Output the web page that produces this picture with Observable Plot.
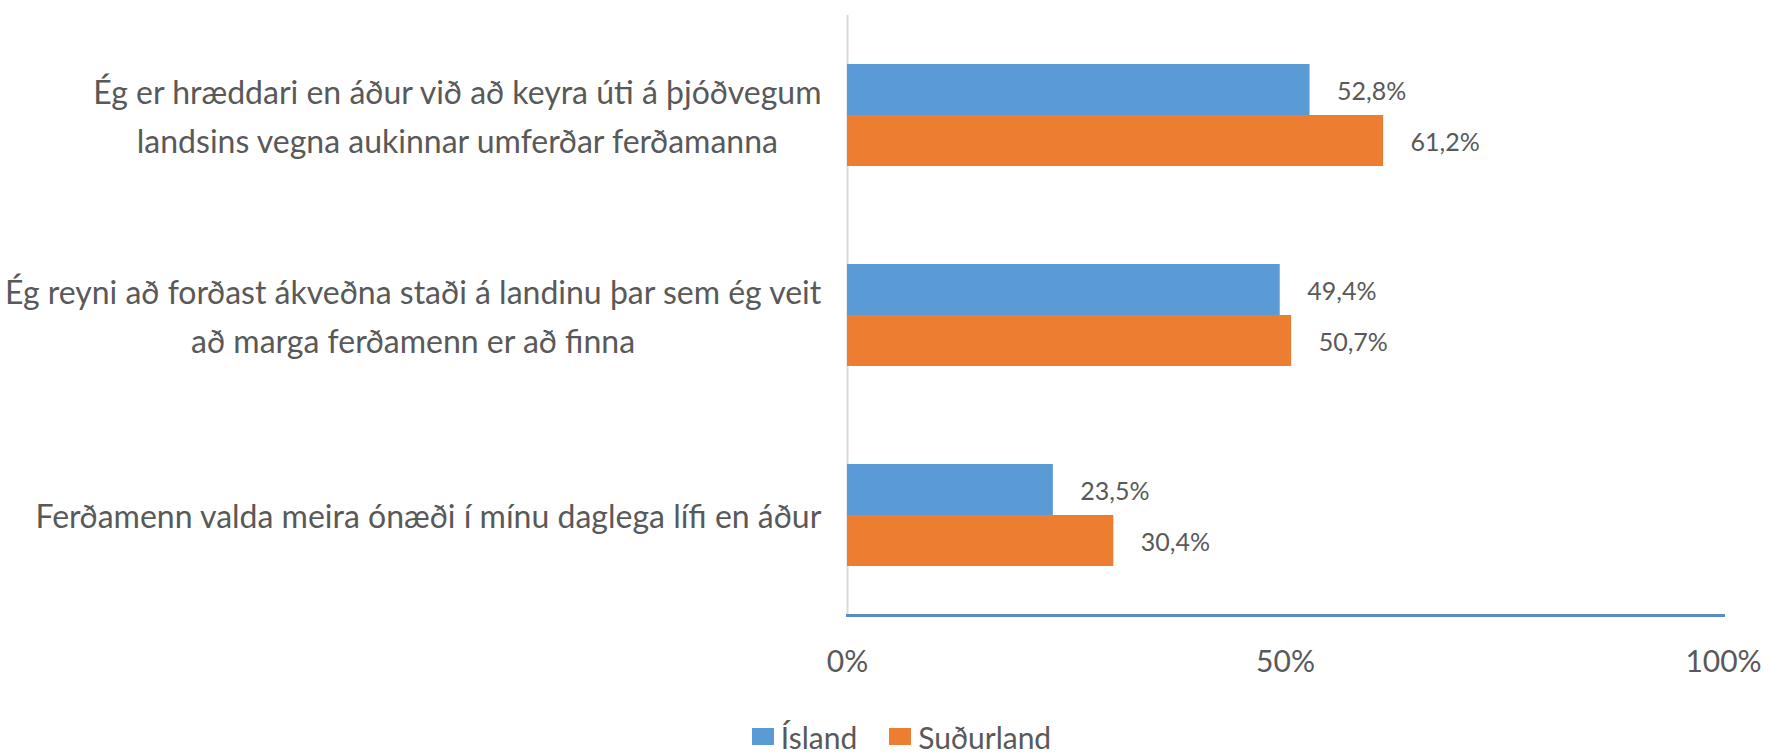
<!DOCTYPE html>
<html><head><meta charset="utf-8">
<script src="https://cdn.jsdelivr.net/npm/d3@7"></script>
<script src="https://cdn.jsdelivr.net/npm/@observablehq/plot@0.6"></script>
<style>
body{margin:0;background:#fff;font-family:Lato,sans-serif;}
#legend{display:flex;justify-content:center;align-items:center;height:33px;padding-left:28px;color:#595959;font-size:30px;}
#legend .item{display:flex;align-items:center;margin:0 16px;}
#legend .sw{width:22px;height:17px;margin-right:7px;}
</style></head><body><div id="chart"></div><div id="legend"></div>
<script>
const questions = [
  "Ég er hræddari en áður við að keyra úti á þjóðvegum\nlandsins vegna aukinnar umferðar ferðamanna",
  "Ég reyni að forðast ákveðna staði á landinu þar sem ég veit\nað marga ferðamenn er að finna",
  "Ferðamenn valda meira ónæði í mínu daglega lífi en áður"
];
const series = ["Ísland", "Suðurland"];
const islandValues = [52.8, 49.4, 23.5];
const sudurlandValues = [61.2, 50.7, 30.4];
const colors = ["#5B9BD5", "#ED7D31"];
const xTicks = [0, 50, 100];

const data = questions.flatMap((q, i) => [
  {question: q, series: series[0], value: islandValues[i]},
  {question: q, series: series[1], value: sudurlandValues[i]}
]);
const fmt = v => v.toFixed(1).replace(".", ",") + "%";

const chart = Plot.plot({
  width: 1775, height: 720,
  marginTop: 14, marginBottom: 104, marginLeft: 847, marginRight: 52,
  style: {fontFamily: "Lato, sans-serif", background: "#fff"},
  x: {domain: [0, 100], label: null},
  fy: {domain: questions, padding: 0, axis: null, label: null},
  y: {domain: series, paddingInner: 0, paddingOuter: 0.94, axis: null, label: null},
  color: {domain: series, range: colors},
  marks: [
    Plot.ruleX([0], {stroke: "#d9d9d9", strokeWidth: 2}),
    Plot.barX(data, {fy: "question", y: "series", x: "value", fill: "series"}),
    Plot.text(data, {fy: "question", y: "series", x: "value", text: d => fmt(d.value),
      textAnchor: "start", dx: 27, dy: 2, fill: "#595959", fontSize: 25}),
    Plot.text(questions, {fy: d => d, text: d => d, frameAnchor: "left", textAnchor: "end",
      dx: -26, dy: -3, fill: "#595959", fontSize: 32, lineHeight: 1.55, ariaDescription: "question-label"}),
    Plot.frame({anchor: "bottom", facetAnchor: "bottom", stroke: "#5a8cc6", strokeWidth: 3}),
    Plot.axisX({anchor: "bottom", facetAnchor: "bottom", ticks: xTicks, tickFormat: d => d + "%",
      tickSize: 0, tickPadding: 35, fontSize: 30, color: "#595959", label: null})
  ]
});
document.getElementById("chart").appendChild(chart);

const legend = document.getElementById("legend");
series.forEach((s, i) => {
  const item = document.createElement("div");
  item.className = "item";
  const sw = document.createElement("div");
  sw.className = "sw";
  sw.style.background = colors[i];
  const lab = document.createElement("span");
  lab.textContent = s;
  item.appendChild(sw); item.appendChild(lab);
  legend.appendChild(item);
});

function centerLabels() {
  chart.querySelectorAll('g[aria-description="question-label"] text').forEach(t => {
    const w = t.getBBox().width;
    t.setAttribute("text-anchor", "middle");
    const tr = t.getAttribute("transform") || "";
    t.setAttribute("transform", (tr + ` translate(${-w / 2},0)`).trim());
  });
}
centerLabels();
</script>
</body></html>
